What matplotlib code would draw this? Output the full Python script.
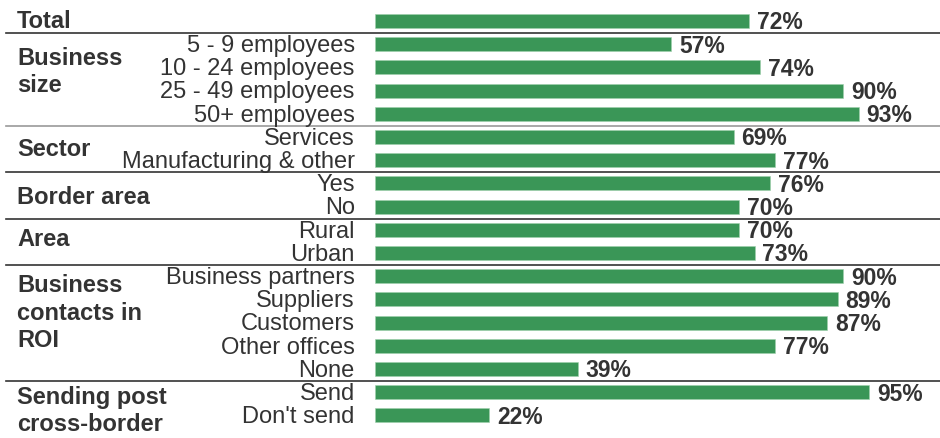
import matplotlib
matplotlib.use("Agg")
import matplotlib.pyplot as plt

plt.rcParams['font.family'] = ['Liberation Sans', 'DejaVu Sans']

# survey breakdown, one bar per row
labels = ["", "5 - 9 employees", "10 - 24 employees", "25 - 49 employees", "50+ employees",
          "Services", "Manufacturing & other",
          "Yes", "No",
          "Rural", "Urban",
          "Business partners", "Suppliers", "Customers", "Other offices", "None",
          "Send", "Don't send"]
values = [72, 57, 74, 90, 93,
          69, 77,
          76, 70,
          70, 73,
          90, 89, 87, 77, 39,
          95, 22]

groups = ["Total", "Business\nsize", "Sector", "Border area", "Area",
          "Business\ncontacts in\nROI", "Sending post\ncross-border"]
group_sizes = [1, 4, 2, 2, 2, 5, 2]
group_nudge = [0, -0.3, 0.05, 0.1, -0.1, -0.4, 0.3]

green = "#3a9657"
ink = "#333333"

fig = plt.figure(figsize=(9.4, 4.38), dpi=100)
ax = fig.add_axes([0, 0, 1, 1])

px = 5.2          # pixels per percent
x0 = 375          # bar origin in pixels
ax.set_xlim(-x0 / px, (940 - x0) / px)
ax.set_ylim((438 - 21) / 23.2, -21 / 23.2)
ax.axis("off")

rows = list(range(len(values)))
ax.barh(rows, values, height=0.6, color=green, edgecolor="#9fd0ad", linewidth=0.4)

for r, (lab, v) in enumerate(zip(labels, values)):
    ax.text(v + 1.5, r + 0.08, f"{v}%", ha="left", va="center",
            fontsize=16.5, fontweight="bold", color=ink)
    if lab:
        ax.text(-3.9, r + 0.08, lab, ha="right", va="center",
                fontsize=17, color=ink)

yt = ax.get_yaxis_transform()
start = 0
for i, (g, n) in enumerate(zip(groups, group_sizes)):
    mid = start + (n - 1) / 2 + group_nudge[i]
    ax.text(17 / 940, mid, g, transform=yt, ha="left", va="center",
            fontsize=17, fontweight="bold", color=ink, linespacing=1.25)
    start += n
    if i < len(groups) - 1:
        c = "#999999" if i == 1 else ink
        ax.plot([6 / 940, 1], [start - 0.47, start - 0.47], transform=yt,
                color=c, lw=1.2, clip_on=False)

fig.savefig("out.png", dpi=100)
